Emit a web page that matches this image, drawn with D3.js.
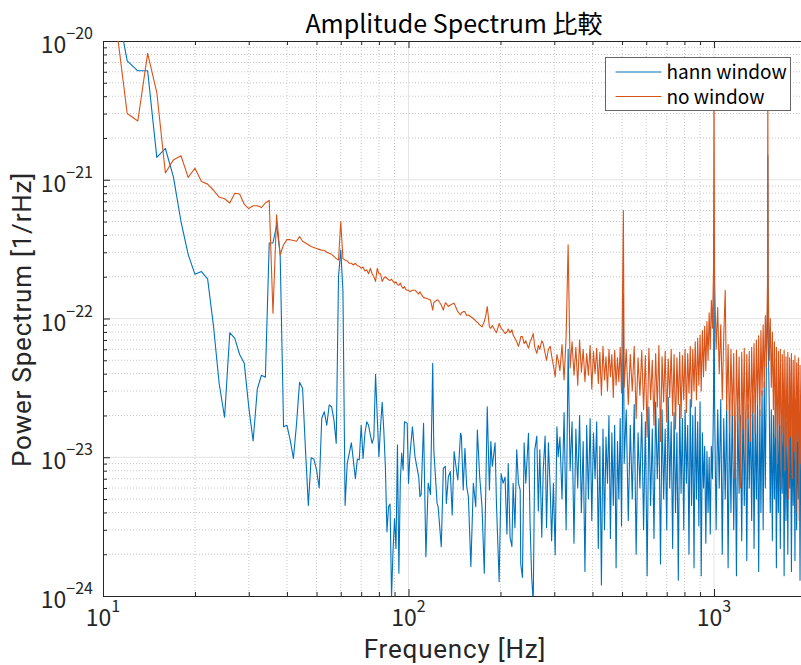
<!DOCTYPE html>
<html>
<head>
<meta charset="utf-8">
<script src="https://cdn.jsdelivr.net/npm/d3@7"></script>
<style>
  body { margin: 0; background: #fff; }
  svg { display: block; font-family: "Noto Sans CJK JP", "Noto Sans", sans-serif; }
  .axis-title { font-family: Roboto, "Noto Sans CJK JP", sans-serif; letter-spacing: 0.8px; }
</style>
</head>
<body>
<svg width="801" height="665"></svg>
<script>
// --- Data (frequency in Hz, amplitude in 1/rHz) ---
const lowFreq = [
  10, 11, 12, 13, 14, 15, 16, 17, 18, 19,
  20, 21, 22, 23, 24, 25, 26, 27, 28, 29,
  30, 31, 32, 33, 34, 35, 36, 37, 38, 39,
  40, 41, 42, 43, 44, 45, 46, 47, 48, 49,
  50, 51, 52, 53, 54, 55, 56, 57, 58, 59,
  60, 61, 62, 63, 64, 65, 66, 67, 68, 69,
  70, 71, 72, 73, 74, 75, 76, 77, 78, 79,
  80, 81, 82, 83, 84, 85, 86, 87, 88, 89,
  90, 91, 92, 93, 94, 95, 96, 97, 98, 99,
  100
];
const lowHann = [
  3e-20, 2e-20, 7.2e-21, 6.1e-21, 6.1e-21, 1.45e-21, 1.68e-21, 1.05e-21, 5.0e-22, 2.9e-22,
  2.08e-22, 2.18e-22, 1.93e-22, 8.8e-23, 3.4e-23, 1.94e-23, 7.9e-23, 7.2e-23, 5.5e-23, 4.75e-23,
  2.3e-23, 1.31e-23, 3.1e-23, 3.9e-23, 3.77e-23, 3.5e-22, 3.5e-22, 4.7e-22, 2.95e-22, 1.66e-23,
  1.7e-23, 1.33e-23, 9.8e-24, 1.74e-23, 3.47e-23, 3.14e-23, 1.13e-23, 4.5e-24, 9.9e-24, 9.7e-24,
  8.1e-24, 6.0e-24, 1.91e-23, 2.13e-23, 1.7e-23, 2.38e-23, 2.31e-23, 1.86e-23, 1.26e-23, 2.0e-22,
  3.12e-22, 1.6e-22, 4.5e-24, 9.0e-24, 1.07e-23, 1.27e-23, 9.5e-24, 7.0e-24, 9.7e-24, 9.6e-24,
  1.7e-23, 9.8e-24, 1.49e-23, 1.8e-23, 1.7e-23, 1.45e-23, 1.26e-23, 1.39e-23, 3.96e-23, 1.96e-23,
  1.01e-23, 1.66e-23, 2.49e-23, 1.57e-23, 8.5e-24, 2.9e-24, 4.4e-24, 4.6e-24, 9.9e-25, 2.15e-24,
  3.6e-24, 2.2e-24, 1.23e-23, 1.46e-24, 6.7e-24, 1.07e-23, 8.1e-24, 1.8e-23, 1.78e-23, 1.76e-23,
  6.5e-24
];
const lowNoWin = [
  3e-20, 1.4e-20, 3.0e-21, 2.65e-21, 8.15e-21, 4.25e-21, 1.12e-21, 1.39e-21, 1.49e-21, 1.04e-21,
  1.21e-21, 9.7e-22, 9.3e-22, 8.4e-22, 7.5e-22, 7.3e-22, 6.8e-22, 8.0e-22, 7.9e-22, 6.65e-22,
  6.2e-22, 6.5e-22, 6.5e-22, 6.3e-22, 6.8e-22, 7.1e-22, 1.09e-22, 5.6e-22, 2.87e-22, 3.4e-22,
  3.7e-22, 3.7e-22, 3.65e-22, 3.6e-22, 3.9e-22, 3.6e-22, 3.5e-22, 3.4e-22, 3.3e-22, 3.25e-22,
  3.2e-22, 3.15e-22, 3.1e-22, 3.1e-22, 3.0e-22, 2.95e-22, 2.9e-22, 2.8e-22, 2.7e-22, 2.64e-22,
  5.0e-22, 2.7e-22, 2.64e-22, 2.6e-22, 2.5e-22, 2.5e-22, 2.43e-22, 2.5e-22, 2.4e-22, 2.38e-22,
  2.3e-22, 2.35e-22, 2.2e-22, 2.24e-22, 2.1e-22, 2.3e-22, 2.1e-22, 2.0e-22, 1.85e-22, 2.3e-22,
  2.1e-22, 2.1e-22, 1.85e-22, 1.95e-22, 2.0e-22, 1.95e-22, 1.9e-22, 1.88e-22, 1.92e-22, 1.85e-22,
  1.8e-22, 1.84e-22, 1.75e-22, 1.74e-22, 1.8e-22, 1.7e-22, 1.65e-22, 1.7e-22, 1.62e-22, 1.6e-22,
  1.6e-22
];

const midFreq = [
  101, 103, 105, 108, 109, 110, 112, 114, 116, 118,
  120, 121, 124, 125, 128, 130, 132, 133, 135, 137,
  139, 141, 143, 145, 148, 149, 151, 153, 155, 157,
  160, 163, 166, 168, 171, 174, 177, 179, 181, 184,
  186, 188, 192, 194, 198, 201, 204, 207, 210, 212,
  215, 218, 220, 223, 226, 229, 232, 233, 236, 239,
  242, 247, 250, 253, 256, 259, 263, 266, 269, 273,
  276, 280, 283, 287, 291, 294, 298, 302, 306, 309
];
const midHann = [
  1.01e-23, 1.66e-23, 1.01e-23, 7.2e-24, 5.2e-24, 5.4e-24, 1.76e-23, 1.92e-24, 6.5e-24, 5.4e-24,
  4.75e-23, 1.13e-23, 4.65e-24, 4.4e-24, 2.27e-24, 8.3e-24, 8.6e-24, 4.65e-24, 7.2e-24, 7.9e-24,
  3.84e-24, 1.1e-23, 8.6e-24, 6.85e-24, 1.49e-23, 1.42e-23, 5.8e-24, 1.16e-23, 6.2e-24, 5.2e-24,
  1.63e-24, 6.5e-24, 4.4e-24, 1.57e-23, 7.2e-24, 4.4e-24, 1.46e-24, 5.8e-24, 2.31e-23, 5.8e-24,
  1.3e-23, 8.6e-24, 1.27e-23, 4.65e-24, 1.27e-24, 7.6e-24, 6.5e-24, 7.2e-24, 2.8e-24, 9.0e-24,
  2.65e-24, 2.27e-24, 6.5e-24, 3.1e-24, 1.13e-23, 6.5e-24, 5.8e-24, 1.7e-24, 1.36e-24, 1.27e-23,
  6.5e-24, 1.49e-23, 3.3e-24, 1.36e-24, 9e-25, 1.13e-23, 1.42e-23, 4.1e-24, 1.13e-23, 2.65e-24,
  8.1e-24, 1.42e-23, 3.1e-24, 1.27e-23, 5.8e-24, 2.5e-24, 6.5e-24, 1.98e-24, 1.66e-23, 1.01e-23
];
const midNoWin = [
  1.56e-22, 1.6e-22, 1.6e-22, 1.5e-22, 1.56e-22, 1.5e-22, 1.42e-22, 1.4e-22, 1.38e-22, 1.36e-22,
  1.15e-22, 1.3e-22, 1.36e-22, 1.36e-22, 1.25e-22, 1.15e-22, 1.3e-22, 1.28e-22, 1.22e-22, 1.25e-22,
  1.27e-22, 1.29e-22, 1.2e-22, 1.12e-22, 1.06e-22, 1.1e-22, 1.12e-22, 1.12e-22, 1.05e-22, 1.06e-22,
  1.03e-22, 1.0e-22, 9.6e-23, 9.4e-23, 9.0e-23, 8.7e-23, 9.5e-23, 1.05e-22, 1.22e-22, 8.7e-23,
  8.5e-23, 8.9e-23, 8.2e-23, 7.9e-23, 9.2e-23, 8.5e-23, 8.2e-23, 7.8e-23, 8.0e-23, 8.4e-23,
  7.9e-23, 8.3e-23, 7.6e-23, 7.2e-23, 6.8e-23, 6.3e-23, 7.0e-23, 7.4e-23, 7.4e-23, 6.6e-23,
  6.9e-23, 6.1e-23, 6.8e-23, 7.2e-23, 7.8e-23, 6.2e-23, 5.6e-23, 6.4e-23, 6.0e-23, 6.9e-23,
  6.6e-23, 5.6e-23, 5.0e-23, 6.0e-23, 6.3e-23, 5.4e-23, 4.6e-23, 3.8e-23, 5.5e-23, 5.0e-23
];

const highFreq = [
  313, 318, 323, 328, 333, 338, 343, 348, 353, 358,
  363, 368, 373, 378, 383, 388, 393, 398, 403, 408,
  413, 418, 423, 428, 433, 438, 443, 448, 453, 458,
  463, 468, 473, 478, 483, 488, 493, 498, 505, 508,
  516, 524, 532, 540, 548, 556, 564, 572, 580, 588,
  596, 604, 612, 620, 628, 636, 644, 652, 660, 668,
  676, 684, 692, 700, 708, 716, 724, 732, 740, 748,
  756, 764, 772, 780, 788, 796, 804, 812, 820, 828,
  836, 844, 852, 860, 868, 876, 884, 892, 900, 908,
  916, 924, 932, 940, 948, 956, 964, 972, 980, 988,
  996, 1000, 1004, 1016, 1028, 1040, 1052, 1064, 1076, 1088,
  1100, 1112, 1124, 1136, 1148, 1160, 1172, 1184, 1196, 1208,
  1220, 1232, 1244, 1256, 1268, 1280, 1292, 1304, 1316, 1328,
  1340, 1352, 1364, 1376, 1388, 1400, 1412, 1424, 1436, 1448,
  1460, 1472, 1484, 1496, 1500, 1504, 1516, 1528, 1540, 1552,
  1564, 1576, 1588, 1600, 1612, 1624, 1636, 1648, 1660, 1672,
  1684, 1696, 1708, 1720, 1732, 1744, 1756, 1768, 1780, 1792,
  1804, 1816, 1828, 1840, 1852, 1864, 1876, 1888, 1900, 1912,
  1924, 1936, 1948, 1960, 1972, 1984, 1996, 2000
];
const highHann = [
  1.4e-23, 5e-24, 2.1e-23, 3e-24, 6e-23, 8e-24, 1.8e-23, 2.4e-24, 1.6e-23, 6e-24,
  2.0e-23, 4e-24, 1.3e-23, 1.5e-24, 1.7e-23, 5e-24, 1.9e-23, 3.5e-24, 1.5e-23, 7e-24,
  1.8e-23, 2.2e-24, 1.2e-23, 1.2e-24, 1.6e-23, 3e-24, 1.4e-23, 6.5e-24, 2.0e-23, 2.6e-24,
  1.5e-23, 4.5e-24, 1.7e-23, 1.6e-24, 1.3e-23, 5e-24, 1.9e-23, 3.2e-24, 1.5e-22, 9e-24,
  2.2e-23, 3.5e-24, 1.7e-23, 5e-24, 2.4e-23, 2.0e-24, 1.5e-23, 6e-24, 2.1e-23, 3e-24,
  1.8e-23, 1.4e-24, 2.3e-23, 4.5e-24, 1.6e-23, 2.6e-24, 2.5e-23, 7e-24, 1.9e-23, 1.7e-24,
  2.2e-23, 5e-24, 1.6e-23, 3e-24, 2.7e-23, 6e-24, 1.8e-23, 2.2e-24, 2.1e-23, 4e-24,
  1.5e-23, 1.3e-24, 2.4e-23, 5.5e-24, 1.9e-23, 3e-24, 2.2e-23, 6.5e-24, 1.7e-23, 2.0e-24,
  2.6e-23, 4.5e-24, 2.0e-23, 1.6e-24, 2.3e-23, 5e-24, 1.8e-23, 3.2e-24, 2.5e-23, 1.4e-24,
  1.5e-23, 6e-24, 1.2e-23, 2.4e-24, 1.1e-23, 4e-24, 1.0e-23, 2.8e-24, 1.2e-23, 7e-24,
  2.5e-23, 3.0e-22, 2.5e-23, 3e-24, 2.2e-23, 6e-24, 2.6e-23, 2e-24, 1.9e-23, 5e-24,
  2.4e-23, 1.6e-24, 2.1e-23, 4e-24, 2.7e-23, 3e-24, 1.8e-23, 1.4e-24, 2.3e-23, 5.5e-24,
  2.0e-23, 2.5e-24, 2.6e-23, 4.5e-24, 1.9e-23, 1.8e-24, 2.4e-23, 6e-24, 2.1e-23, 3.5e-24,
  2.8e-23, 2.2e-24, 2.0e-23, 5e-24, 2.5e-23, 1.5e-24, 2.2e-23, 4e-24, 3.0e-23, 3e-24,
  3.5e-23, 6e-24, 5e-23, 1.1e-22, 1.5e-21, 8e-23, 2.4e-23, 4e-24, 2.2e-23, 2.5e-24,
  2.0e-23, 5e-24, 2.6e-23, 1.6e-24, 1.9e-23, 4e-24, 2.3e-23, 2.2e-24, 1.7e-23, 5.5e-24,
  2.5e-23, 1.4e-24, 2.1e-23, 3.5e-24, 1.8e-23, 2.0e-24, 2.4e-23, 6e-24, 1.9e-23, 1.5e-24,
  2.2e-23, 4.5e-24, 2.0e-23, 1.8e-24, 2.6e-23, 3e-24, 1.7e-23, 5e-24, 2.1e-23, 1.3e-24,
  1.8e-23, 3.5e-24, 2.3e-23, 2e-24, 1.9e-23, 4e-24, 2.2e-23, 6e-24
];
const highNoWin = [
  4.2e-23, 6.5e-23, 3.6e-23, 7.4e-23, 3.4e-22, 4.4e-23, 6.8e-23, 3.9e-23, 6.2e-23, 3.3e-23,
  7.0e-23, 4.1e-23, 6.0e-23, 3.5e-23, 5.6e-23, 3.9e-23, 6.4e-23, 3.1e-23, 5.8e-23, 4.0e-23,
  6.1e-23, 3.4e-23, 5.7e-23, 2.8e-23, 6.3e-23, 3.6e-23, 5.3e-23, 3.0e-23, 6.0e-23, 3.8e-23,
  5.5e-23, 2.7e-23, 5.9e-23, 3.3e-23, 5.2e-23, 3.5e-23, 6.2e-23, 2.9e-23, 6.0e-22, 3.2e-23,
  6.0e-23, 2.4e-23, 5.5e-23, 3.0e-23, 6.3e-23, 1.9e-23, 5.2e-23, 2.8e-23, 5.9e-23, 2.2e-23,
  5.4e-23, 1.4e-23, 6.1e-23, 2.6e-23, 5.0e-23, 1.7e-23, 5.6e-23, 2.3e-23, 6.4e-23, 1.3e-23,
  5.3e-23, 2.5e-23, 5.8e-23, 1.8e-23, 5.1e-23, 2.7e-23, 6.0e-23, 2.0e-23, 5.5e-23, 1.6e-23,
  5.2e-23, 2.4e-23, 5.7e-23, 1.9e-23, 5.4e-23, 2.6e-23, 6.0e-23, 2.1e-23, 5.6e-23, 2.9e-23,
  6.3e-23, 2.3e-23, 6.0e-23, 3.0e-23, 6.8e-23, 2.6e-23, 7.2e-23, 3.3e-23, 7.6e-23, 3.0e-23,
  8.2e-23, 3.8e-23, 8.8e-23, 4.2e-23, 9.5e-23, 5.0e-23, 1.1e-22, 6.0e-23, 1.35e-22, 8.5e-23,
  2.2e-22, 5e-21, 2.0e-22, 6e-23, 1.2e-22, 4e-23, 9e-23, 2.6e-23, 7.5e-23, 1.6e-22,
  2.2e-23, 6.5e-23, 1.5e-23, 6.0e-23, 2.0e-23, 5.6e-23, 7e-24, 5.9e-23, 1.8e-23, 5.3e-23,
  6e-24, 5.7e-23, 1.6e-23, 6.1e-23, 8e-24, 5.5e-23, 1.9e-23, 5.8e-23, 1.3e-23, 6.2e-23,
  2.1e-23, 6.6e-23, 1.5e-23, 7.0e-23, 2.4e-23, 7.5e-23, 2.0e-23, 8.2e-23, 2.8e-23, 9.0e-23,
  3.2e-23, 1.05e-22, 4.5e-23, 1.7e-22, 5e-21, 1.8e-22, 5e-23, 1.0e-22, 3.2e-23, 8.0e-23,
  2.2e-23, 6.8e-23, 1.4e-23, 6.2e-23, 9e-24, 5.8e-23, 1.7e-23, 6.0e-23, 6e-24, 5.5e-23,
  1.5e-23, 5.9e-23, 8e-24, 5.3e-23, 1.2e-23, 5.7e-23, 5e-24, 5.2e-23, 1.4e-23, 5.6e-23,
  7e-24, 5.0e-23, 1.1e-23, 5.4e-23, 4e-24, 4.8e-23, 1.3e-23, 5.2e-23, 3.5e-24, 4.6e-23,
  9e-24, 5.0e-23, 3e-24, 4.5e-23, 8e-24, 4.9e-23, 3.2e-24, 4.2e-23
];

const seriesNames = ['hann window', 'no window'];
const seriesColors = ['#0072BD', '#D95319'];
const xMajorTicks = [10, 100, 1000];
const yMajorTicks = [1e-24, 1e-23, 1e-22, 1e-21, 1e-20];

// --- Montagem das séries ---
const freq = lowFreq.concat(midFreq, highFreq);
const hann = lowHann.concat(midHann, highHann);
const noWin = lowNoWin.concat(midNoWin, highNoWin);
const series = [
  freq.map((f, i) => ({ f, v: hann[i] })),
  freq.map((f, i) => ({ f, v: noWin[i] }))
];

const svg = d3.select('svg');
// the plot box runs a little past the right edge of the window
const box = { left: 103, top: 41, right: 806, bottom: 596 };

const x = d3.scaleLog().domain([10, 2000]).range([box.left, box.right]);
const y = d3.scaleLog().domain([1e-24, 1e-20]).range([box.bottom, box.top]);

const isMajor = v => Math.abs(Math.log10(v) - Math.round(Math.log10(v))) < 1e-9;
const xMinor = x.ticks().filter(v => !isMajor(v));
const yMinor = y.ticks().filter(v => !isMajor(v));

// --- Grade ---
const grid = svg.append('g');
grid.selectAll('.gx-minor').data(xMinor).enter().append('line')
  .attr('x1', d => x(d)).attr('x2', d => x(d))
  .attr('y1', box.top).attr('y2', box.bottom)
  .attr('stroke', '#c8c8c8').attr('stroke-dasharray', '1,2');
grid.selectAll('.gy-minor').data(yMinor).enter().append('line')
  .attr('x1', box.left).attr('x2', box.right)
  .attr('y1', d => y(d)).attr('y2', d => y(d))
  .attr('stroke', '#c8c8c8').attr('stroke-dasharray', '1,2');
grid.selectAll('.gx-major').data(xMajorTicks.slice(1)).enter().append('line')
  .attr('x1', d => x(d)).attr('x2', d => x(d))
  .attr('y1', box.top).attr('y2', box.bottom)
  .attr('stroke', '#e4e4e4');
grid.selectAll('.gy-major').data(yMajorTicks.slice(1, -1)).enter().append('line')
  .attr('x1', box.left).attr('x2', box.right)
  .attr('y1', d => y(d)).attr('y2', d => y(d))
  .attr('stroke', '#e4e4e4');

// --- Eixos (ticks para dentro, como no MATLAB) ---
const axisColor = '#262626';
function styleAxis(g) {
  g.selectAll('path').attr('stroke', axisColor);
  g.selectAll('line').attr('stroke', axisColor);
}
svg.append('g').attr('transform', `translate(0,${box.bottom})`)
  .call(d3.axisBottom(x).tickValues(xMajorTicks).tickSize(-7).tickSizeOuter(0).tickFormat(''))
  .call(styleAxis);
svg.append('g').attr('transform', `translate(0,${box.bottom})`)
  .call(d3.axisBottom(x).tickValues(xMinor).tickSize(-4).tickSizeOuter(0).tickFormat(''))
  .call(styleAxis);
svg.append('g').attr('transform', `translate(0,${box.top})`)
  .call(d3.axisTop(x).tickValues(xMajorTicks).tickSize(-7).tickSizeOuter(0).tickFormat(''))
  .call(styleAxis);
svg.append('g').attr('transform', `translate(0,${box.top})`)
  .call(d3.axisTop(x).tickValues(xMinor).tickSize(-4).tickSizeOuter(0).tickFormat(''))
  .call(styleAxis);
svg.append('g').attr('transform', `translate(${box.left},0)`)
  .call(d3.axisLeft(y).tickValues(yMajorTicks).tickSize(-7).tickSizeOuter(0).tickFormat(''))
  .call(styleAxis);
svg.append('g').attr('transform', `translate(${box.left},0)`)
  .call(d3.axisLeft(y).tickValues(yMinor).tickSize(-4).tickSizeOuter(0).tickFormat(''))
  .call(styleAxis);

// --- Rótulos dos ticks (10 com expoente) ---
function powerLabel(sel, v) {
  const e = Math.round(Math.log10(v));
  sel.append('tspan').text('10');
  sel.append('tspan').attr('dy', -14).style('font-size', '16px')
    .text(e < 0 ? '\u2212' + (-e) : String(e));
}
svg.selectAll('.xlab').data(xMajorTicks).enter().append('text')
  .attr('x', d => x(d)).attr('y', 626)
  .attr('text-anchor', 'middle')
  .style('font-size', '23px').style('fill', axisColor)
  .each(function(d) { powerLabel(d3.select(this), d); });
svg.selectAll('.ylab').data(yMajorTicks).enter().append('text')
  .attr('x', 93).attr('y', d => y(d) + 12)
  .attr('text-anchor', 'end')
  .style('font-size', '23px').style('fill', axisColor)
  .each(function(d) { powerLabel(d3.select(this), d); });

// --- Linhas ---
svg.append('clipPath').attr('id', 'plot-clip').append('rect')
  .attr('x', box.left).attr('y', box.top)
  .attr('width', box.right - box.left).attr('height', box.bottom - box.top);

const line = d3.line().x(d => x(d.f)).y(d => y(d.v));
svg.append('g').attr('clip-path', 'url(#plot-clip)')
  .selectAll('path').data(series).enter().append('path')
  .attr('d', line)
  .attr('fill', 'none')
  .attr('stroke', (d, i) => seriesColors[i])
  .attr('stroke-width', 1.1)
  .attr('stroke-linejoin', 'round');

// --- Título e rótulos dos eixos ---
svg.append('text')
  .attr('x', 454).attr('y', 33)
  .attr('text-anchor', 'middle')
  .style('font-size', '25px').style('fill', '#000')
  .text('Amplitude Spectrum 比較');

svg.append('text')
  .attr('class', 'axis-title')
  .attr('x', 455).attr('y', 658)
  .attr('text-anchor', 'middle')
  .style('font-size', '26px').style('fill', axisColor)
  .text('Frequency [Hz]');

svg.append('text')
  .attr('class', 'axis-title')
  .attr('transform', `translate(31, ${(box.top + box.bottom) / 2 + 1}) rotate(-90)`)
  .attr('text-anchor', 'middle')
  .style('font-size', '26px').style('fill', axisColor)
  .text('Power Spectrum [1/rHz]');

// --- Legenda ---
const legend = svg.append('g').attr('transform', 'translate(605.5, 57.5)');
legend.append('rect')
  .attr('width', 185).attr('height', 53)
  .attr('fill', '#fff').attr('stroke', '#666').attr('stroke-width', 1);
seriesNames.forEach((name, i) => {
  const ly = 14.5 + i * 24.5;
  legend.append('line')
    .attr('x1', 10).attr('x2', 56).attr('y1', ly).attr('y2', ly)
    .attr('stroke', seriesColors[i]).attr('stroke-width', 1.1);
  legend.append('text')
    .attr('x', 61).attr('y', ly + 7)
    .style('font-size', '19px').style('fill', '#000')
    .text(name);
});
</script>
</body>
</html>
